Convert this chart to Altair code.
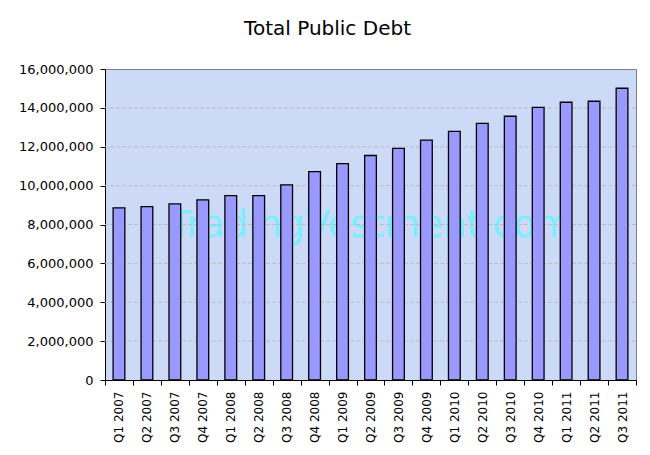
import altair as alt
import pandas as pd

quarters = ["Q1 2007", "Q2 2007", "Q3 2007", "Q4 2007",
            "Q1 2008", "Q2 2008", "Q3 2008", "Q4 2008",
            "Q1 2009", "Q2 2009", "Q3 2009", "Q4 2009",
            "Q1 2010", "Q2 2010", "Q3 2010", "Q4 2010",
            "Q1 2011", "Q2 2011", "Q3 2011"]
debt = [8860000, 8920000, 9060000, 9270000,
        9490000, 9490000, 10040000, 10720000,
        11130000, 11550000, 11920000, 12340000,
        12790000, 13200000, 13570000, 14030000,
        14290000, 14340000, 15010000]
y_ticks = [0, 2000000, 4000000, 6000000, 8000000, 10000000, 12000000, 14000000, 16000000]
grid_values = [2000000, 4000000, 6000000, 8000000, 10000000, 12000000, 14000000]
watermark_text = ["TradingVestment.com"]
watermark_at = ["Q2 2009"]
watermark_level = [7900000]

df = pd.DataFrame({"quarter": quarters, "debt": debt})
grid_df = pd.DataFrame({"debt": grid_values})
wm_df = pd.DataFrame({"quarter": watermark_at, "debt": watermark_level, "t": watermark_text})

FONT = "DejaVu Sans"

x_enc = alt.X("quarter:N", sort=quarters,
              scale=alt.Scale(domain=quarters, paddingInner=0, paddingOuter=0),
              axis=alt.Axis(title=None, labelAngle=270, labelAlign="right",
                            labelBaseline="middle", tickBand="extent",
                            tickSize=5, tickColor="black", domainColor="black",
                            labelPadding=6, labelFont=FONT, labelFontSize=12,
                            labelColor="black", grid=False))
y_enc = alt.Y("debt:Q",
              scale=alt.Scale(domain=[0, 16000000], nice=False, zero=True),
              axis=alt.Axis(title=None, values=y_ticks,
                            labelExpr="format(datum.value, ',')",
                            tickSize=5, tickColor="black", domainColor="black",
                            labelPadding=7, labelFont=FONT, labelFontSize=13,
                            labelColor="black", grid=False))

wm = alt.Chart(wm_df).mark_text(
    font=FONT, fontSize=37, color="#66F4FF", opacity=0.8,
    align="center", baseline="middle"
).encode(x=x_enc, y=y_enc, text="t:N")

grid = alt.Chart(grid_df).mark_rule(
    color="#BEBEBE", strokeDash=[4, 2], strokeWidth=1
).encode(y=y_enc)

bars = alt.Chart(df).mark_bar(
    color="#9999FF", stroke="black", strokeWidth=1.3,
    width=alt.RelativeBandSize(0.42)
).encode(x=x_enc, y=y_enc)

chart = alt.layer(wm, grid, bars).properties(
    width=531, height=311,
    title=alt.TitleParams("Total Public Debt", font=FONT, fontSize=20,
                          fontWeight="normal", anchor="middle", frame="bounds",
                          offset=24, color="black"),
    autosize=alt.AutoSizeParams(type="none"),
    padding={"left": 97, "top": 61, "right": 4, "bottom": 70},
    background="white"
).configure_view(
    fill="#CCD9F7", stroke="#7F7F7F", strokeWidth=1
)

chart.save("out.html", embed_options={"renderer": "svg", "actions": False})
